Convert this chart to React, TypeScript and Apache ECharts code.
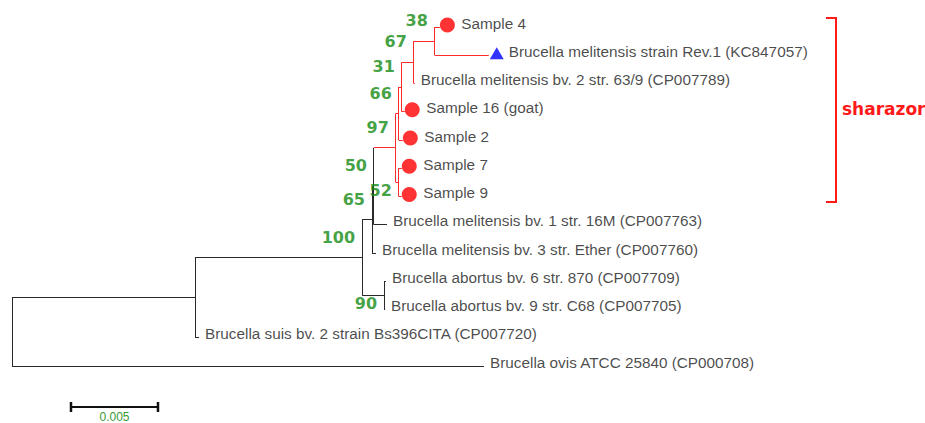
import React, { useEffect, useRef } from "react";
import * as echarts from "echarts";

// ---- Tree data (branch lengths in substitutions / site) ----
const nodeIds = [
  "root", "nA", "nB", "nD", "nF", "nG", "n66", "n31", "n67", "n38",
  "S4", "Rev1", "bv2", "S16", "S2", "n52", "S7", "S9", "M16", "Ether",
  "nC", "a870", "C68", "suis", "ovis",
];
const nodeParents: (string | null)[] = [
  null, "root", "nA", "nB", "nD", "nF", "nG", "n66", "n31", "n67",
  "n38", "n38", "n67", "n31", "n66", "nG", "n52", "n52", "nF", "nD",
  "nB", "nC", "nC", "nA", "root",
];
const branchLengths = [
  0, 0.01052, 0.0096, 0.00057, 0.00011, 0.00126, 0.00017, 0.00017, 0.00069, 0.00121,
  0.00029, 0.0031, 0.00006, 0.00017, 0.00023, 0.00017, 0.00017, 0.00017, 0.00075, 0.00023,
  0.00126, 0.00011, 0.00006, 0.00023, 0.02713,
];

const leafIds = ["S4", "Rev1", "bv2", "S16", "S2", "S7", "S9", "M16", "Ether", "a870", "C68", "suis", "ovis"];
const leafLabels = [
  "Sample 4",
  "Brucella melitensis strain Rev.1 (KC847057)",
  "Brucella melitensis bv. 2 str. 63/9 (CP007789)",
  "Sample 16 (goat)",
  "Sample 2",
  "Sample 7",
  "Sample 9",
  "Brucella melitensis bv. 1 str. 16M (CP007763)",
  "Brucella melitensis bv. 3 str. Ether (CP007760)",
  "Brucella abortus bv. 6 str. 870 (CP007709)",
  "Brucella abortus bv. 9 str. C68 (CP007705)",
  "Brucella suis bv. 2 strain Bs396CITA (CP007720)",
  "Brucella ovis ATCC 25840 (CP000708)",
];
const leafMarkers = ["circle", "triangle", "", "circle", "circle", "circle", "circle", "", "", "", "", "", ""];

const bootstrapNodes = ["n38", "n67", "n31", "n66", "nG", "nF", "n52", "nD", "nB", "nC"];
const bootstrapValues = [38, 67, 31, 66, 97, 50, 52, 65, 100, 90];
const bootstrapBelow = [false, false, false, false, false, false, true, false, false, true];

const cladeRoot = "nG";
const cladeName = "sharazor";
const scaleBarLength = 0.005;
const scaleBarLabel = "0.005";

const RED = "#ff2a2a";
const BLACK = "#2a2a2a";
const GREEN = "#128a12";

function layoutTree() {
  const n = nodeIds.length;
  const idx = new Map<string, number>(nodeIds.map((id, i) => [id, i]));
  const children: number[][] = nodeIds.map(() => []);
  nodeParents.forEach((p, i) => {
    if (p) children[idx.get(p)!].push(i);
  });
  const xs = new Array(n).fill(0);
  const ys = new Array(n).fill(0);
  const red = new Array(n).fill(false);
  const setX = (i: number, base: number, isRed: boolean) => {
    xs[i] = base + branchLengths[i];
    red[i] = isRed || nodeIds[i] === cladeRoot;
    children[i].forEach((c) => setX(c, xs[i], red[i]));
  };
  const setY = (i: number) => {
    if (children[i].length === 0) {
      ys[i] = leafIds.indexOf(nodeIds[i]);
    } else {
      children[i].forEach(setY);
      const ch = children[i];
      ys[i] = (ys[ch[0]] + ys[ch[ch.length - 1]]) / 2;
    }
  };
  const root = idx.get("root")!;
  setX(root, 0, false);
  setY(root);
  return { idx, children, xs, ys, red };
}

export default function App() {
  const ref = useRef<HTMLDivElement>(null);
  useEffect(() => {
    if (!ref.current) return;
    const chart = echarts.init(ref.current, undefined, { renderer: "svg" });
    const { idx, children, xs, ys, red } = layoutTree();

    const edges: number[][] = [];
    nodeIds.forEach((_, i) => {
      const ch = children[i];
      if (ch.length) {
        edges.push([xs[i], ys[ch[0]], xs[i], ys[ch[ch.length - 1]], red[i] ? 1 : 0, 0]);
      }
      const p = nodeParents[i];
      if (p) {
        const pi = idx.get(p)!;
        edges.push([xs[pi], ys[i], xs[i], ys[i], red[i] ? 1 : 0, 1]);
      }
    });

    const leafData = leafIds.map((id, k) => {
      const i = idx.get(id)!;
      const gap = leafMarkers[k] === "circle" ? 21.5 : leafMarkers[k] === "triangle" ? 20 : 6;
      return { value: [xs[i], ys[i]], name: leafLabels[k], label: { offset: [gap, -4] } };
    });
    const circleData = leafIds
      .map((id, k) => (leafMarkers[k] === "circle" ? [xs[idx.get(id)!], ys[idx.get(id)!]] : null))
      .filter((d) => d);
    const triData = leafIds
      .map((id, k) => (leafMarkers[k] === "triangle" ? [xs[idx.get(id)!], ys[idx.get(id)!]] : null))
      .filter((d) => d);
    const bootData = bootstrapNodes.map((id, k) => {
      const i = idx.get(id)!;
      return {
        value: [xs[i], ys[i]],
        name: String(bootstrapValues[k]),
        label: { offset: [-7, bootstrapBelow[k] ? 8.5 : -20.5] },
      };
    });

    const crisp = (v: number) => Math.round(v - 0.5) + 0.5;

    const option: any = {
      animation: false,
      grid: { left: 12, right: 43, top: 27, bottom: 0.5 },
      xAxis: { type: "value", min: 0, max: 0.05, show: false },
      yAxis: { type: "value", min: 0, max: 14, inverse: true, show: false },
      graphic: [
        {
          type: "polyline",
          silent: true,
          shape: { points: [[826, 18], [836, 18], [836, 202], [826, 202]] },
          style: { stroke: "#ff1a1a", lineWidth: 2, fill: "none" },
        },
        {
          type: "text",
          silent: true,
          x: 842,
          y: 109,
          style: {
            text: cladeName,
            fill: "#ff1a1a",
            font: "bold 17px 'DejaVu Sans'",
            verticalAlign: "middle",
          },
        },
      ],
      series: [
        {
          type: "custom",
          silent: true,
          data: edges,
          renderItem: (_p: any, api: any) => {
            const a = api.coord([api.value(0), api.value(1)]);
            const b = api.coord([api.value(2), api.value(3)]);
            const horiz = api.value(5) === 1;
            let x1 = a[0], y1 = a[1], x2 = b[0], y2 = b[1];
            if (horiz) { y1 = crisp(y1); y2 = y1; } else { x1 = crisp(x1); x2 = x1; }
            return {
              type: "line",
              shape: { x1, y1, x2, y2 },
              style: { stroke: api.value(4) ? RED : BLACK, lineWidth: 1 },
            };
          },
        },
        {
          type: "scatter",
          silent: true,
          data: circleData,
          symbol: "circle",
          symbolSize: 15,
          symbolOffset: [7.5, -2],
          itemStyle: { color: "#ff0000" },
        },
        {
          type: "scatter",
          silent: true,
          data: triData,
          symbol: "triangle",
          symbolSize: [14, 12],
          symbolOffset: [8, -2],
          itemStyle: { color: "#0000ff" },
        },
        {
          type: "scatter",
          silent: true,
          data: leafData,
          symbolSize: 0,
          label: {
            show: true,
            position: "right",
            distance: 0,
            formatter: "{b}",
            color: "#1a1a1a",
            fontSize: 15.3,
            fontFamily: "'Liberation Sans', Arial, sans-serif",
            verticalAlign: "middle",
          },
        },
        {
          type: "scatter",
          silent: true,
          data: bootData,
          symbolSize: 0,
          label: {
            show: true,
            position: "right",
            distance: 0,
            align: "right",
            verticalAlign: "middle",
            formatter: "{b}",
            color: GREEN,
            fontSize: 16,
            fontWeight: "bold",
            fontFamily: "'DejaVu Sans', sans-serif",
          },
        },
        {
          type: "custom",
          silent: true,
          data: [[0.00339, 13.45]],
          renderItem: (_p: any, api: any) => {
            const a = api.coord([api.value(0), api.value(1)]);
            const b = api.coord([api.value(0) + scaleBarLength, api.value(1)]);
            const y = Math.round(a[1]);
            return {
              type: "group",
              children: [
                { type: "line", shape: { x1: a[0], y1: y, x2: b[0], y2: y }, style: { stroke: "#111", lineWidth: 2 } },
                { type: "line", shape: { x1: a[0], y1: y - 5, x2: a[0], y2: y + 5 }, style: { stroke: "#111", lineWidth: 2.5 } },
                { type: "line", shape: { x1: b[0], y1: y - 5, x2: b[0], y2: y + 5 }, style: { stroke: "#111", lineWidth: 2.5 } },
                {
                  type: "text",
                  x: (a[0] + b[0]) / 2,
                  y: y + 9.5,
                  style: {
                    text: scaleBarLabel,
                    fill: "#3a9a3a",
                    font: "12px 'Liberation Sans', Arial, sans-serif",
                    align: "center",
                    verticalAlign: "middle",
                  },
                },
              ],
            };
          },
        },
      ],
    };
    chart.setOption(option);
    return () => chart.dispose();
  }, []);
  return (
    <div
      ref={ref}
      style={{ position: "fixed", left: 0, top: 0, width: 925, height: 423, background: "#fff" }}
    />
  );
}
